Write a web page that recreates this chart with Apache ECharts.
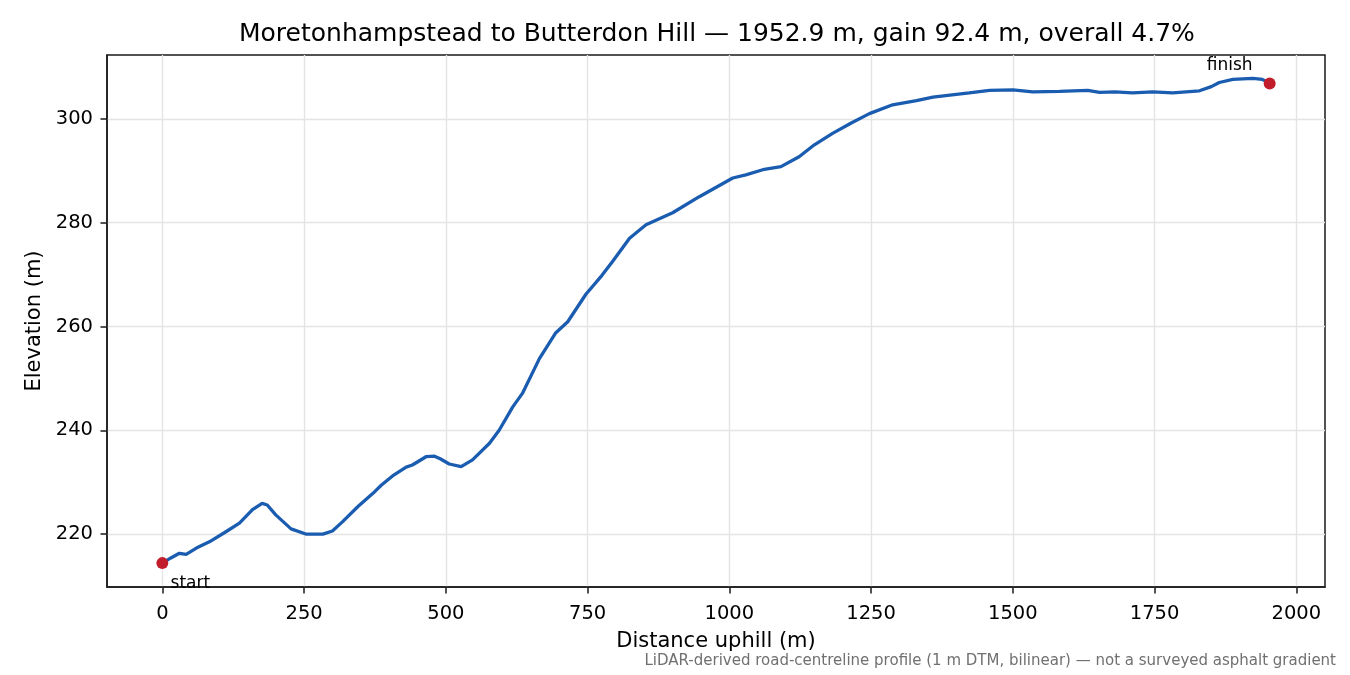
<!DOCTYPE html>
<html>
 <head>
  <title>Elevation profile</title>
  <script src="https://cdn.jsdelivr.net/npm/echarts@6/dist/echarts.min.js"></script>
  <style>
    html, body, #container {
    width: 1350px;
    height: 675px;
    margin: 0;
    padding: 0;
    background: #fff;
    }
  </style>
 </head>

<body>
  <div id="container"></div>
  <script>

    // distance along the road (m) and elevation (m)
    var distance = [0, 15, 30, 42, 60, 83, 110, 136, 159, 176, 185, 200, 227, 253, 283, 300, 318, 345, 371, 386,
      406, 430, 441, 465, 480, 490, 506, 527, 547, 577, 594, 618, 635, 665, 694, 715, 747, 775, 794, 824,
      853, 900, 947, 1006, 1029, 1059, 1091, 1123, 1150, 1182, 1215, 1247, 1288, 1330, 1359, 1423, 1459, 1500, 1535, 1582,
      1632, 1653, 1680, 1711, 1747, 1782, 1829, 1850, 1864, 1888, 1923, 1940, 1952.9];
    var elevation = [214.4, 215.4, 216.3, 216.1, 217.3, 218.5, 220.3, 222.1, 224.7, 225.9, 225.6, 223.7, 221.0, 220.0, 220.0, 220.6, 222.4, 225.3, 227.8, 229.4,
      231.2, 232.9, 233.3, 234.9, 235.0, 234.5, 233.5, 233.0, 234.3, 237.5, 240.0, 244.5, 247.1, 253.8, 258.8, 260.9, 266.2, 269.8, 272.5, 277.0,
      279.6, 281.9, 285.0, 288.6, 289.2, 290.2, 290.8, 292.7, 295.0, 297.2, 299.2, 301.0, 302.7, 303.5, 304.2, 305.0, 305.5, 305.6, 305.2, 305.3,
      305.5, 305.1, 305.2, 305.0, 305.2, 305.0, 305.4, 306.2, 307.0, 307.6, 307.8, 307.6, 306.8];

    var xTicks = [0, 250, 500, 750, 1000, 1250, 1500, 1750, 2000];
    var yTicks = [220, 240, 260, 280, 300];

    var markerNames = ['start', 'finish'];
    var markerDist = [0, 1952.9];
    var markerElev = [214.4, 306.8];

    var titleText = 'Moretonhampstead to Butterdon Hill \u2014 1952.9 m, gain 92.4 m, overall 4.7%';
    var footText = 'LiDAR-derived road-centreline profile (1 m DTM, bilinear) \u2014 not a surveyed asphalt gradient';

    var font = 'DejaVu Sans';
    var chart = echarts.init(document.getElementById('container'), null, { renderer: 'canvas' });

    var lineData = distance.map(function (d, i) { return [d, elevation[i]]; });

    var options = {
      backgroundColor: '#fff',
      animation: false,
      textStyle: { fontFamily: font },
      title: {
        text: titleText,
        left: 234,
        top: 5,
        textStyle: { fontFamily: font, fontSize: 25, fontWeight: 'normal', color: '#000' }
      },
      grid: {
        left: 107, right: 25, top: 55, bottom: 88,
        containLabel: false,
        outerBoundsMode: 'none',
        show: true, borderColor: '#1a1a1a', borderWidth: 1.5, backgroundColor: 'transparent'
      },
      xAxis: {
        type: 'value',
        min: -97.6,
        max: 2050.5,
        name: 'Distance uphill (m)',
        nameLocation: 'middle',
        nameGap: 34,
        nameMoveOverlap: false,
        nameTextStyle: { fontFamily: font, fontSize: 21, color: '#000' },
        axisLine: { show: true, onZero: false, lineStyle: { color: '#1a1a1a', width: 1.5 } },
        axisTick: { show: true, customValues: xTicks, length: 6.5, lineStyle: { color: '#1a1a1a', width: 1.5 } },
        axisLabel: { customValues: xTicks, fontFamily: font, fontSize: 19.5, color: '#000', margin: 8,
          formatter: function (v) { return String(v); } },
        splitLine: { show: true, lineStyle: { color: '#e4e4e4', width: 1.4 } }
      },
      yAxis: {
        type: 'value',
        min: 209.8,
        max: 312.3,
        name: 'Elevation (m)',
        nameLocation: 'middle',
        nameGap: 52,
        nameMoveOverlap: false,
        nameTextStyle: { fontFamily: font, fontSize: 21, color: '#000' },
        axisLine: { show: true, onZero: false, lineStyle: { color: '#1a1a1a', width: 1.5 } },
        axisTick: { show: true, customValues: yTicks, length: 6.5, lineStyle: { color: '#1a1a1a', width: 1.5 } },
        axisLabel: { customValues: yTicks, fontFamily: font, fontSize: 19.5, color: '#000', margin: 14,
          formatter: function (v) { return String(v); } },
        splitLine: { show: true, lineStyle: { color: '#e4e4e4', width: 1.4 } }
      },
      series: [
        {
          name: 'profile',
          type: 'line',
          data: lineData,
          showSymbol: false,
          lineStyle: { color: '#1a5cb0', width: 3.3 },
          z: 3
        },
        {
          name: 'ends',
          type: 'scatter',
          symbolSize: 12,
          itemStyle: { color: '#c21d2a', opacity: 1 },
          z: 4,
          data: [
            {
              value: [markerDist[0], markerElev[0]],
              label: { show: true, formatter: markerNames[0], position: 'inside', offset: [28, 20.5],
                fontFamily: font, fontSize: 17, color: '#000' }
            },
            {
              value: [markerDist[1], markerElev[1]],
              label: { show: true, formatter: markerNames[1], position: 'inside', offset: [-40, -18],
                fontFamily: font, fontSize: 17, color: '#000' }
            }
          ]
        }
      ],
      graphic: [
        {
          type: 'text',
          right: 14,
          top: 646,
          style: { text: footText, fontFamily: font, fontSize: 15, fill: '#707070' }
        }
      ]
    };

    chart.setOption(options);
  </script>
</body>
</html>
